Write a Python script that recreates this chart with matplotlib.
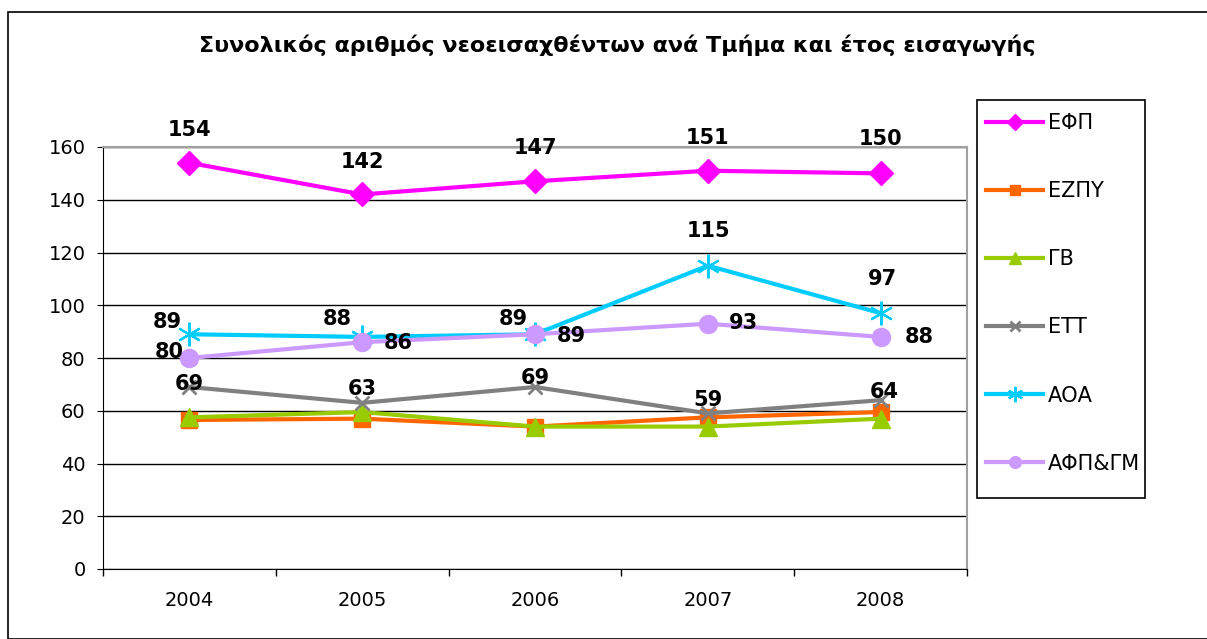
import matplotlib
matplotlib.use('Agg')
import matplotlib.pyplot as plt
from matplotlib.patches import Rectangle

plt.rcParams['font.family'] = ['DejaVu Sans']

# Data
years = ['2004', '2005', '2006', '2007', '2008']
efp = [154, 142, 147, 151, 150]
ezpy = [56.5, 57, 54, 57.5, 59.5]
gb = [57.5, 59.5, 54, 54, 57]
ett = [69, 63, 69, 59, 64]
aoa = [89, 88, 89, 115, 97]
afp_gm = [80, 86, 89, 93, 88]
series_names = ['ΕΦΠ', 'ΕΖΠΥ', 'ΓΒ', 'ΕΤΤ', 'ΑΟΑ', 'ΑΦΠ&ΓΜ']
title = 'Συνολικός αριθμός νεοεισαχθέντων ανά Τμήμα και έτος εισαγωγής'

W, H = 1207, 639
PT = 0.72  # points per pixel at dpi 100

fig = plt.figure(figsize=(W / 100, H / 100), dpi=100)

# outer frame of the chart
fig.patches.append(Rectangle((8 / W, 0), 1.2, (H - 12) / H, transform=fig.transFigure,
                             fill=False, edgecolor='black', linewidth=1.2))

fig.text(617 / W, 1 - 45 / H, title, ha='center', va='center',
         fontsize=16, fontweight='bold')

# plot area in pixel coordinates
left, right, top, bottom = 103, 967, 147, 569
ax = fig.add_axes([left / W, 1 - bottom / H, (right - left) / W, (bottom - top) / H])

x = list(range(len(years)))
styles = [
    (efp, '#ff00ff', 'D', 12.5, None),
    (ezpy, '#ff6600', 's', 11, None),
    (gb, '#99cc00', '^', 13, None),
    (ett, '#808080', 'x', 10, 2),
    (aoa, '#00ccff', (6, 2, 0), 17, 1.6),
    (afp_gm, '#cc99ff', 'o', 13, None),
]
handles = []
for (vals, col, mk, ms, mew), name in zip(styles, series_names):
    kw = dict(markeredgewidth=mew) if mew else dict(markeredgecolor=col)
    h, = ax.plot(x, vals, color=col, lw=3, marker=mk, markersize=ms,
                 markerfacecolor=col, label=name, **kw)
    handles.append(h)

# label offsets (pixels, +x right, +y down) of text centre from the point
efp_off = [(0, -33), (0, -32), (0, -33), (0, -33), (0, -34)]
ett_off = [(0, -3), (0, -14), (0, -9), (0, -13), (4, -8)]
aoa_off = [(-22, -12), (-25, -18), (-22, -15), (1, -35), (2, -34)]
afp_off = [(-20, -6), (36, 1), (36, 2), (36, -1), (39, 0)]


def put_labels(vals, offs):
    for i, v in enumerate(vals):
        dx, dy = offs[i]
        ax.annotate(str(v), (i, v), xytext=(dx * PT, -dy * PT), textcoords='offset points',
                    ha='center', va='center', fontsize=15, fontweight='bold', color='black')


put_labels(efp, efp_off)
put_labels(ett, ett_off)
put_labels(aoa, aoa_off)
put_labels(afp_gm, afp_off)

ax.set_xlim(-0.5, len(years) - 0.5)
ax.set_ylim(0, 160)
ax.set_yticks(range(0, 161, 20))
ax.set_xticks(x)
ax.set_xticklabels(years)
ax.set_xticks([i - 0.5 for i in range(len(years) + 1)], minor=True)
ax.tick_params(axis='x', which='major', length=0, labelsize=14, pad=16)
ax.tick_params(axis='x', which='minor', length=5, direction='out', width=1)
ax.tick_params(axis='y', length=4.5, direction='out', labelsize=14, pad=8)
ax.yaxis.grid(True, color='black', lw=1)
ax.set_axisbelow(True)
for s in ['top', 'right']:
    ax.spines[s].set_color('#a0a0a0')
    ax.spines[s].set_linewidth(1.5)
for s in ['left', 'bottom']:
    ax.spines[s].set_color('black')

# legend box drawn separately so its size matches the reference
fig.patches.append(Rectangle((977 / W, 1 - 498 / H), 168 / W, 398 / H,
                             transform=fig.transFigure, fill=False,
                             edgecolor='black', linewidth=1.2))
fig.legend(handles=handles, loc='upper left',
           bbox_to_anchor=(986 / W, 1 - 113 / H), bbox_transform=fig.transFigure,
           fontsize=15, frameon=False, labelspacing=2.31, handlelength=2.74,
           borderpad=0, handletextpad=0.25, markerscale=0.65, borderaxespad=0)

fig.savefig('out.png', dpi=100)
